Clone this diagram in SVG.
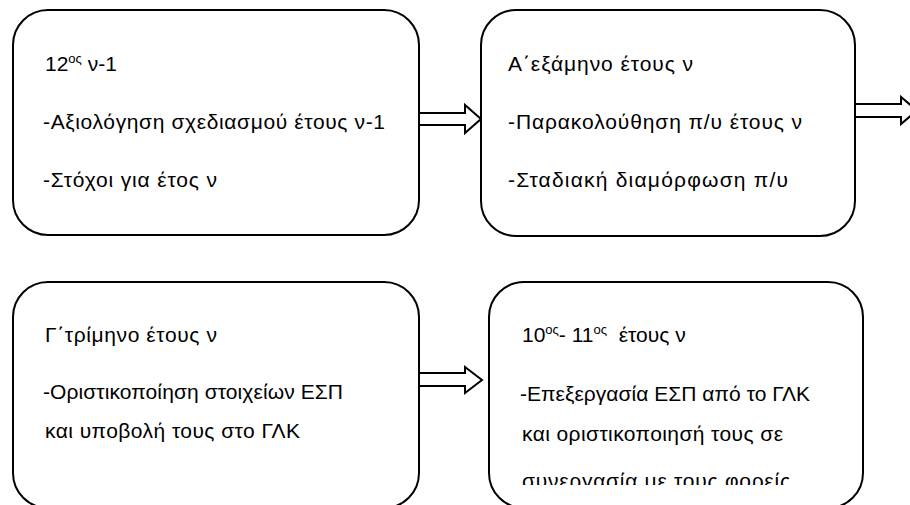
<svg xmlns="http://www.w3.org/2000/svg" width="910" height="505" viewBox="0 0 910 505">
<style>
.box{fill:#fff;stroke:#000;stroke-width:2}
.arr{fill:#fff;stroke:#000;stroke-width:2;stroke-linejoin:miter}
text{font-family:"Liberation Sans","DejaVu Sans",sans-serif;font-size:21px;fill:#000}
.sup{font-size:13px}
</style>
<defs>
<clipPath id="clip4"><rect x="489" y="282" width="374" height="203"/></clipPath>
</defs>
<rect width="910" height="505" fill="#fff"/>
<g id="connectors">
<polygon class="arr" points="419,113 465,113 465,105 481,119 465,133 465,125 419,125"/>
<polygon class="arr" points="855,104 901,104 901,97 917,110.5 901,124 901,117 855,117"/>
<polygon class="arr" points="419,373 465,373 465,367 482,380 465,393 465,386 419,386"/>
</g>
<g id="node1">
<rect class="box" x="13" y="10" width="406" height="225" rx="35"/>
<text x="45" y="71">12<tspan class="sup" dy="-8">ος</tspan><tspan dy="8"> ν-1</tspan></text>
<text x="43" y="129" textLength="342">-Αξιολόγηση σχεδιασμού έτους ν-1</text>
<text x="43" y="187" textLength="174">-Στόχοι για έτος ν</text>
</g>
<g id="node2">
<rect class="box" x="481" y="10" width="374" height="226" rx="35"/>
<text x="508" y="71" textLength="185">Α΄εξάμηνο έτους ν</text>
<text x="508" y="129" textLength="294">-Παρακολούθηση π/υ έτους ν</text>
<text x="508" y="187" textLength="280">-Σταδιακή διαμόρφωση π/υ</text>
</g>
<g id="node3">
<rect class="box" x="13" y="282" width="406" height="226" rx="35"/>
<text x="45" y="342" textLength="172">Γ΄τρίμηνο έτους ν</text>
<text x="43" y="399" textLength="300">-Οριστικοποίηση στοιχείων ΕΣΠ</text>
<text x="45" y="438" textLength="255">και υποβολή τους στο ΓΛΚ</text>
</g>
<g id="node4">
<rect class="box" x="489" y="282" width="374" height="226" rx="35"/>
<g clip-path="url(#clip4)">
<text x="522" y="342">10<tspan class="sup" dy="-8">ος</tspan><tspan dy="8">- 11</tspan><tspan class="sup" dy="-8">ος</tspan><tspan dy="8" xml:space="preserve">  έτους ν</tspan></text>
<text x="520" y="401" textLength="290">-Επεξεργασία ΕΣΠ από το ΓΛΚ</text>
<text x="522" y="441" textLength="261">και οριστικοποιησή τους σε</text>
<text x="522" y="488" textLength="268">συνεργασία με τους φορείς</text>
</g>
</g>
</svg>
